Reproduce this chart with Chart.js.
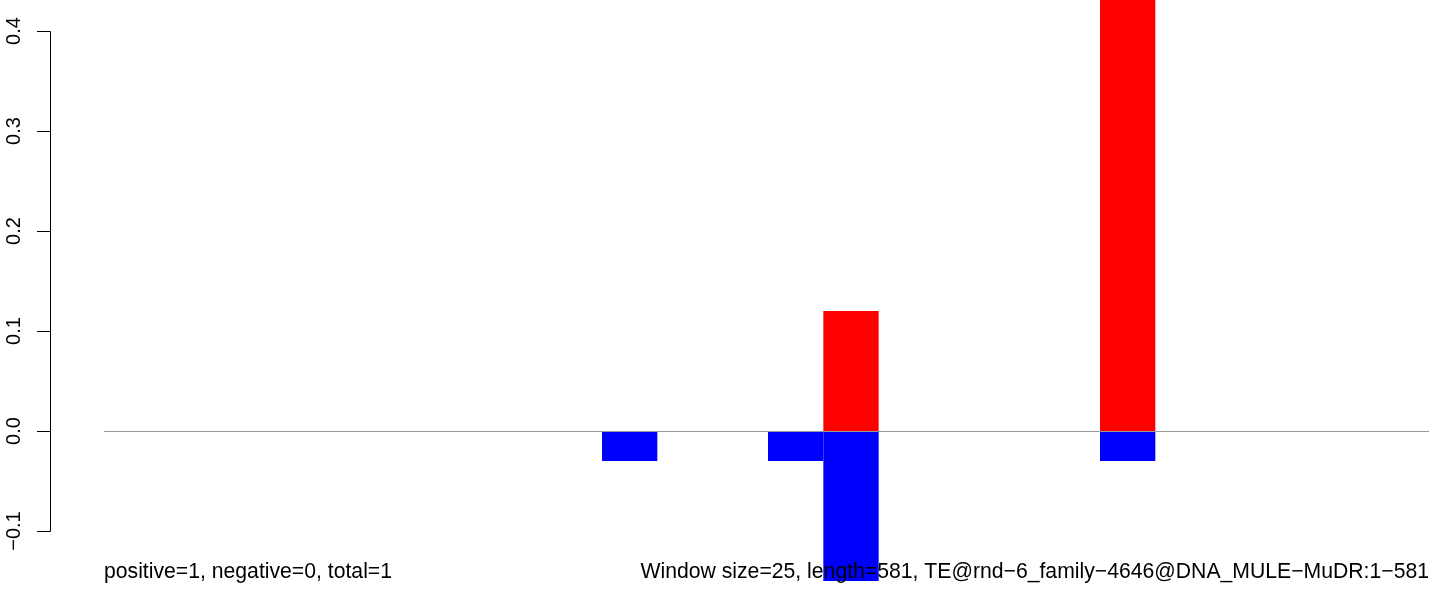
<!DOCTYPE html>
<html>
<head>
<meta charset="utf-8">
<script src="https://cdn.jsdelivr.net/npm/chart.js@4"></script>
<style>
  html, body { margin: 0; padding: 0; background: #fff; overflow: hidden; }
  #wrap { width: 1432px; height: 592px; position: relative; }
</style>
</head>
<body>
<div id="wrap"><canvas id="chart"></canvas></div>
<script>
// ventanas de 25 pb sobre 581 pb
const bins = ["0","25","50","75","100","125","150","175","200","225","250","275",
              "300","325","350","375","400","425","450","475","500","525","550","575"];
const posVals = [0,0,0,0,0,0,0,0,0,0,0,0,0,0.12,0,0,0,0,0.5,0,0,0,0,0];
const negVals = [0,0,0,0,0,0,0,0,0,-0.03,0,0,-0.03,-0.15,0,0,0,0,-0.03,0,0,0,0,0];
const yTicks = [-0.1, 0, 0.1, 0.2, 0.3, 0.4];
const yTickLabels = ["\u22120.1", "0.0", "0.1", "0.2", "0.3", "0.4"];
const leftText = "positive=1, negative=0, total=1";
const rightText = "Window size=25, length=581, TE@rnd\u22126_family\u22124646@DNA_MULE\u2212MuDR:1\u2212581";

const TICK_FONT = '20px "Liberation Sans", Arial, sans-serif';
const TEXT_FONT = '21.2px "Liberation Sans", Arial, sans-serif';

// linea del cero, eje y y textos encima de las barras
const rDecor = {
  id: "rDecor",
  afterDatasetsDraw(chart) {
    const ctx = chart.ctx;
    const y = chart.scales.y;
    const area = chart.chartArea;
    ctx.save();
    // linea del cero
    ctx.strokeStyle = "#999";
    ctx.lineWidth = 1;
    const y0 = Math.round(y.getPixelForValue(0)) + 0.5;
    ctx.beginPath();
    ctx.moveTo(area.left, y0);
    ctx.lineTo(area.right, y0);
    ctx.stroke();
    // eje y
    ctx.strokeStyle = "#000";
    const ax = 50.5;
    const yTop = Math.round(y.getPixelForValue(yTicks[yTicks.length - 1])) + 0.5;
    const yBot = Math.round(y.getPixelForValue(yTicks[0])) + 0.5;
    ctx.beginPath();
    ctx.moveTo(ax, yTop);
    ctx.lineTo(ax, yBot);
    yTicks.forEach(v => {
      const py = Math.round(y.getPixelForValue(v)) + 0.5;
      ctx.moveTo(37, py);
      ctx.lineTo(ax, py);
    });
    ctx.stroke();
    ctx.font = TICK_FONT;
    ctx.fillStyle = "#000";
    ctx.textAlign = "center";
    ctx.textBaseline = "alphabetic";
    yTicks.forEach((v, i) => {
      const py = y.getPixelForValue(v);
      ctx.save();
      ctx.translate(20, py);
      ctx.rotate(-Math.PI / 2);
      ctx.fillText(yTickLabels[i], 0, 0);
      ctx.restore();
    });
    // textos de abajo
    ctx.font = TEXT_FONT;
    ctx.textAlign = "left";
    ctx.fillText(leftText, 104, 578);
    ctx.textAlign = "right";
    ctx.fillText(rightText, 1429, 578);
    ctx.restore();
  }
};

new Chart(document.getElementById("chart"), {
  type: "bar",
  data: {
    labels: bins,
    datasets: [
      { label: "positive", data: posVals, backgroundColor: "#ff0000",
        borderWidth: 0, inflateAmount: 0,
        barPercentage: 1, categoryPercentage: 1, grouped: false },
      { label: "negative", data: negVals, backgroundColor: "#0000ff",
        borderWidth: 0, inflateAmount: 0,
        barPercentage: 1, categoryPercentage: 1, grouped: false }
    ]
  },
  options: {
    responsive: true,
    maintainAspectRatio: false,
    animation: false,
    layout: { padding: { left: 104, right: 0, top: 0, bottom: 0 } },
    scales: {
      x: { display: false },
      y: { display: false, min: -0.161, max: 0.431 }
    },
    plugins: { legend: { display: false }, tooltip: { enabled: false } }
  },
  plugins: [rDecor]
});
</script>
</body>
</html>
